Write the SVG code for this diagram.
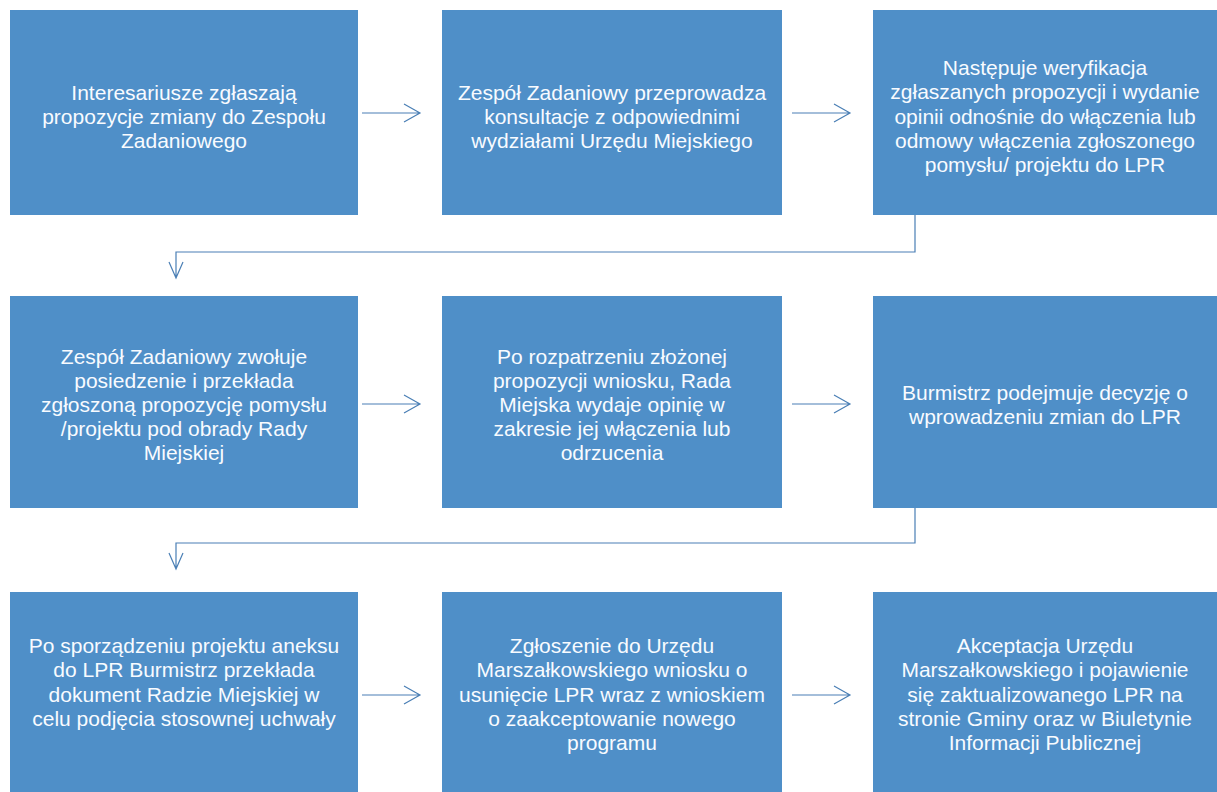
<svg xmlns="http://www.w3.org/2000/svg" width="1217" height="792" viewBox="0 0 1217 792">
<style>
.box{fill:#4f8fc8}
.t{font-family:"Liberation Sans",Arial,sans-serif;font-size:21px;fill:#f8fbff;text-anchor:middle}
.c{fill:none;stroke:#4a7fb5;stroke-width:1.2}
</style>
<rect width="1217" height="792" fill="#ffffff"/>
<g id="n1"><rect class="box" x="10" y="10" width="348" height="205"/>
<text class="t" y="100"><tspan x="184">Interesariusze zgłaszają</tspan><tspan x="184" dy="24">propozycje zmiany do Zespołu</tspan><tspan x="184" dy="24">Zadaniowego</tspan></text></g>
<g id="n2"><rect class="box" x="442" y="10" width="340" height="205"/>
<text class="t" y="100"><tspan x="612">Zespół Zadaniowy przeprowadza</tspan><tspan x="612" dy="24">konsultacje z odpowiednimi</tspan><tspan x="612" dy="24">wydziałami Urzędu Miejskiego</tspan></text></g>
<g id="n3"><rect class="box" x="873" y="10" width="344" height="205"/>
<text class="t" y="75"><tspan x="1045">Następuje weryfikacja</tspan><tspan x="1045" dy="24.3">zgłaszanych propozycji i wydanie</tspan><tspan x="1045" dy="24.3">opinii odnośnie do włączenia lub</tspan><tspan x="1045" dy="24.3">odmowy włączenia zgłoszonego</tspan><tspan x="1045" dy="24.3">pomysłu/ projektu do LPR</tspan></text></g>
<g id="n4"><rect class="box" x="10" y="296" width="348" height="212"/>
<text class="t" y="364"><tspan x="184">Zespół Zadaniowy zwołuje</tspan><tspan x="184" dy="24">posiedzenie i przekłada</tspan><tspan x="184" dy="24">zgłoszoną propozycję pomysłu</tspan><tspan x="184" dy="24">/projektu pod obrady Rady</tspan><tspan x="184" dy="24">Miejskiej</tspan></text></g>
<g id="n5"><rect class="box" x="442" y="296" width="340" height="212"/>
<text class="t" y="364"><tspan x="612">Po rozpatrzeniu złożonej</tspan><tspan x="612" dy="24">propozycji wniosku, Rada</tspan><tspan x="612" dy="24">Miejska wydaje opinię w</tspan><tspan x="612" dy="24">zakresie jej włączenia lub</tspan><tspan x="612" dy="24">odrzucenia</tspan></text></g>
<g id="n6"><rect class="box" x="873" y="296" width="344" height="212"/>
<text class="t" y="400"><tspan x="1045">Burmistrz podejmuje decyzję o</tspan><tspan x="1045" dy="24">wprowadzeniu zmian do LPR</tspan></text></g>
<g id="n7"><rect class="box" x="10" y="592" width="348" height="200"/>
<text class="t" y="653"><tspan x="184">Po sporządzeniu projektu aneksu</tspan><tspan x="184" dy="24.3">do LPR Burmistrz przekłada</tspan><tspan x="184" dy="24.3">dokument Radzie Miejskiej w</tspan><tspan x="184" dy="24.3">celu podjęcia stosownej uchwały</tspan></text></g>
<g id="n8"><rect class="box" x="442" y="592" width="340" height="200"/>
<text class="t" y="653"><tspan x="612">Zgłoszenie do Urzędu</tspan><tspan x="612" dy="24.3">Marszałkowskiego wniosku o</tspan><tspan x="612" dy="24.3">usunięcie LPR wraz z wnioskiem</tspan><tspan x="612" dy="24.3">o zaakceptowanie nowego</tspan><tspan x="612" dy="24.3">programu</tspan></text></g>
<g id="n9"><rect class="box" x="873" y="592" width="344" height="200"/>
<text class="t" y="653"><tspan x="1045">Akceptacja Urzędu</tspan><tspan x="1045" dy="24.3">Marszałkowskiego i pojawienie</tspan><tspan x="1045" dy="24.3">się zaktualizowanego LPR na</tspan><tspan x="1045" dy="24.3">stronie Gminy oraz w Biuletynie</tspan><tspan x="1045" dy="24.3">Informacji Publicznej</tspan></text></g>
<g id="connectors" class="c">
<path d="M362 113H420M404 104L420 113L404 122"/>
<path d="M792 113H850M834 104L850 113L834 122"/>
<path d="M915 215V252H176V278M169 262L176 278L183 262"/>
<path d="M362 404H420M404 395L420 404L404 413"/>
<path d="M792 404H850M834 395L850 404L834 413"/>
<path d="M915 508V543H176V569M169 553L176 569L183 553"/>
<path d="M362 695H420M404 686L420 695L404 704"/>
<path d="M792 695H850M834 686L850 695L834 704"/>
</g>
</svg>
